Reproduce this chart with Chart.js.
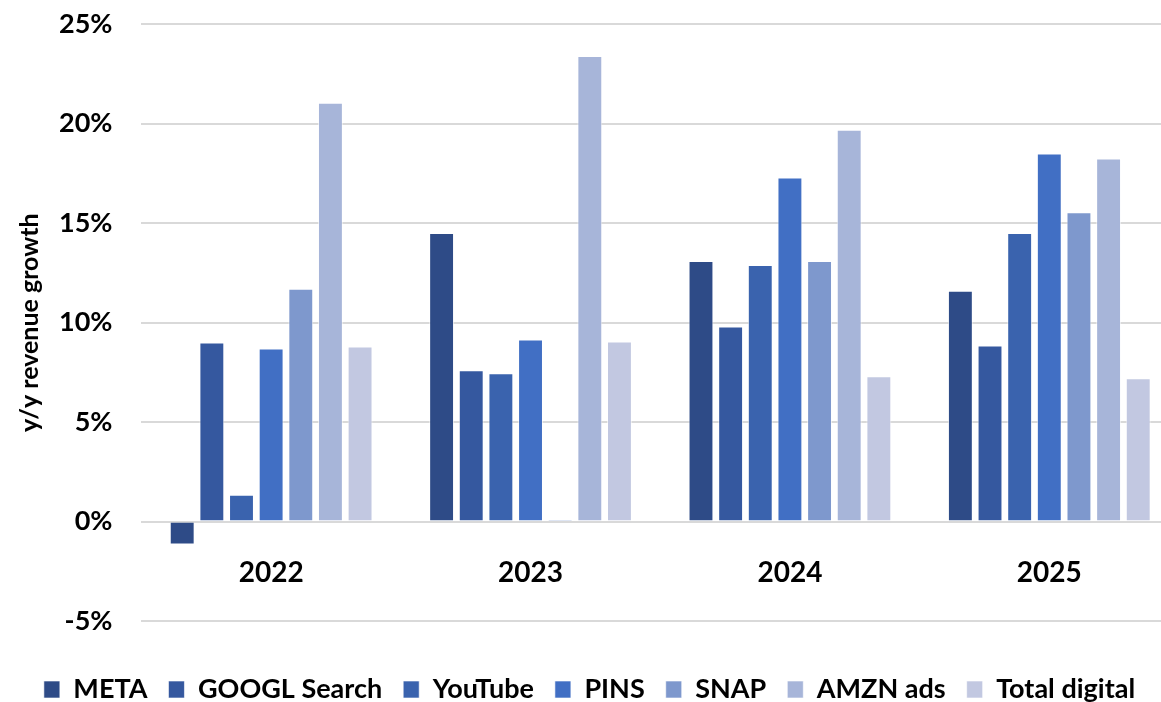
<!DOCTYPE html>
<html>
<head>
<meta charset="utf-8">
<script src="https://cdn.jsdelivr.net/npm/chart.js@4"></script>
<style>
  body { margin: 0; background: #fff; }
  #wrap { width: 1161px; height: 702px; overflow: hidden; }
  #growthChart { display: block; margin-top: -21px; }
</style>
</head>
<body>
<div id="wrap"><canvas id="growthChart" width="1179" height="723"></canvas></div>
<script>
var years = ['2022', '2023', '2024', '2025'];

// y/y revenue growth, %
var meta = [-1.15, 14.5, 13.1, 11.6];
var googlSearch = [9.0, 7.6, 9.8, 8.85];
var youtube = [1.35, 7.45, 12.9, 14.5];
var pins = [8.7, 9.15, 17.3, 18.5];
var snap = [11.7, 0.1, 13.1, 15.55];
var amznAds = [21.05, 23.4, 19.7, 18.25];
var totalDigital = [8.8, 9.05, 7.3, 7.2];

var yTicks = [-5, 0, 5, 10, 15, 20, 25];

var seriesNames = ['META', 'GOOGL Search', 'YouTube', 'PINS', 'SNAP', 'AMZN ads', 'Total digital'];
var seriesValues = [meta, googlSearch, youtube, pins, snap, amznAds, totalDigital];
var seriesColors = ['#2e4b87', '#35589f', '#3a63ae', '#416fc4', '#7e98cd', '#a7b5d9', '#c2c8e1'];

var font = 'Lato, "Open Sans", sans-serif';

var datasets = seriesNames.map(function (name, i) {
    return {
        label: name,
        data: seriesValues[i],
        backgroundColor: seriesColors[i],
        borderColor: 'rgba(255,255,255,0.6)',
        borderWidth: 1,
        categoryPercentage: 0.80,
        barPercentage: 0.84
    };
});

var ctx = document.getElementById('growthChart').getContext('2d');
var growthChart = new Chart(ctx, {
    type: 'bar',
    data: { labels: years, datasets: datasets },
    options: {
        responsive: false,
        animation: false,
        layout: { padding: { top: -11, right: 0, left: 0, bottom: -11 } },
        plugins: {
            legend: {
                position: 'bottom',
                labels: {
                    color: '#000',
                    font: { family: font, size: 27, weight: 'bold' },
                    boxWidth: 16,
                    boxHeight: 17,
                    padding: 21
                }
            },
            tooltip: { enabled: false }
        },
        scales: {
            x: {
                position: { y: 0 },
                grid: { display: false },
                border: { display: false },
                ticks: {
                    color: '#000',
                    padding: 27,
                    font: { family: font, size: 28, weight: 'bold' }
                }
            },
            // empty bottom axis, only keeps room between plot and legend
            spacer: {
                type: 'category',
                position: 'bottom',
                labels: years,
                grid: { display: false },
                border: { display: false },
                ticks: { display: false },
                afterFit: function (scale) { scale.height = 34; }
            },
            y: {
                min: yTicks[0],
                max: yTicks[yTicks.length - 1],
                afterBuildTicks: function (scale) {
                    scale.ticks = yTicks.map(function (v) { return { value: v }; });
                },
                ticks: {
                    color: '#000',
                    padding: 29,
                    font: { family: font, size: 27, weight: 'bold' },
                    callback: function (v) { return v + '%'; }
                },
                grid: { color: '#d9d9d9', lineWidth: 2, drawTicks: false },
                border: { display: false },
                title: {
                    display: true,
                    text: 'y/y revenue growth',
                    color: '#000',
                    font: { family: font, size: 25, weight: 'bold' },
                    padding: { top: 15, bottom: -15 }
                }
            }
        }
    }
});
</script>
</body>
</html>
